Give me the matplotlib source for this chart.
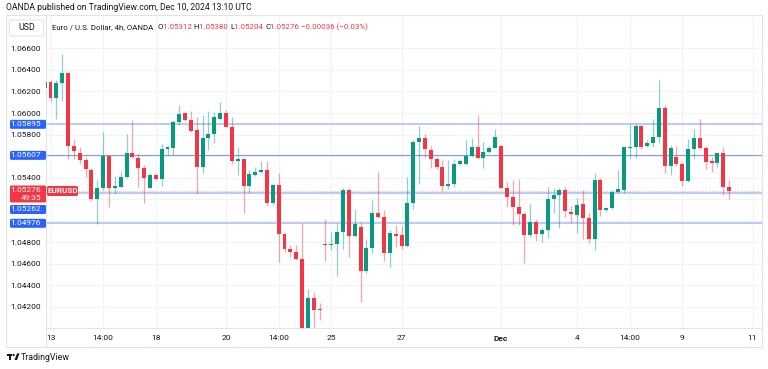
"""
EUR/USD 4h candles, OANDA snapshot style (TradingView look)
"""

import matplotlib.pyplot as plt
from matplotlib.patches import FancyBboxPatch, Rectangle, Polygon, Circle

plt.rcParams["font.family"] = ["Roboto", "DejaVu Sans"]

# candle data (index -1 = last candle before Nov 13 02:00)
first_index = -1
opens = [
    1.06229, 1.06285, 1.06136, 1.06276, 1.06368, 1.05694, 1.05631, 1.05564, 1.05471, 1.05199,
    1.05301, 1.05601, 1.05301, 1.05316, 1.05403, 1.05626, 1.05580, 1.05487, 1.05306, 1.05424,
    1.05384, 1.05666, 1.05678, 1.05919, 1.06003, 1.05935, 1.05842, 1.05496, 1.05771, 1.05805,
    1.05944, 1.06003, 1.05873, 1.05554, 1.05570, 1.05322, 1.05424, 1.05455, 1.05471, 1.05167,
    1.05332, 1.04874, 1.04737, 1.04707, 1.04642, 1.03750, 1.04285, 1.04180, 1.04784, 1.04772,
    1.04784, 1.04892, 1.05285, 1.04858, 1.04944, 1.04533, 1.04749, 1.05069, 1.05037, 1.04698,
    1.04877, 1.04867, 1.04765, 1.05162, 1.05728, 1.05768, 1.05654, 1.05576, 1.05501, 1.05322,
    1.05341, 1.05529, 1.05529, 1.05601, 1.05681, 1.05580, 1.05635, 1.05678, 1.05694, 1.05306,
    1.05217, 1.05130, 1.05060, 1.04867, 1.04985, 1.04874, 1.04914, 1.05202, 1.05239, 1.05285,
    1.05078, 1.05053, 1.05152, 1.05028, 1.04830, 1.05378, 1.05100, 1.05122, 1.05266, 1.05285,
    1.05678, 1.05681, 1.05882, 1.05694, 1.05724, 1.05774, 1.06044, 1.05511, 1.05594, 1.05524,
    1.05372, 1.05663, 1.05765, 1.05672, 1.05554, 1.05533, 1.05626, 1.05312,
]
highs = [
    1.06316, 1.06306, 1.06306, 1.06548, 1.06383, 1.05759, 1.05687, 1.05594, 1.05487, 1.05378,
    1.05826, 1.05610, 1.05415, 1.05462, 1.05802, 1.05935, 1.05631, 1.05517, 1.05440, 1.05440,
    1.05712, 1.05694, 1.05935, 1.06074, 1.06012, 1.06019, 1.05966, 1.05981, 1.06019, 1.06012,
    1.06102, 1.06028, 1.05960, 1.05681, 1.05580, 1.05471, 1.05501, 1.05554, 1.05554, 1.05347,
    1.05446, 1.04889, 1.04775, 1.04775, 1.04982, 1.04366, 1.04341, 1.04233, 1.05013, 1.04898,
    1.04970, 1.05301, 1.05301, 1.05109, 1.04991, 1.04827, 1.05192, 1.05449, 1.05100, 1.04914,
    1.04962, 1.04954, 1.05409, 1.05749, 1.05882, 1.05802, 1.05696, 1.05589, 1.05564, 1.05564,
    1.05570, 1.05570, 1.05749, 1.05771, 1.05981, 1.05733, 1.05694, 1.05851, 1.05703, 1.05362,
    1.05378, 1.05384, 1.05084, 1.05155, 1.05013, 1.04930, 1.05310, 1.05301, 1.05301, 1.05310,
    1.05137, 1.05211, 1.05285, 1.05069, 1.05440, 1.05394, 1.05130, 1.05285, 1.05471, 1.05681,
    1.05898, 1.05895, 1.05889, 1.05749, 1.05942, 1.06306, 1.06074, 1.05703, 1.05694, 1.05548,
    1.05759, 1.05851, 1.05944, 1.05694, 1.05594, 1.05631, 1.05681, 1.05380,
]
lows = [
    1.06213, 1.06105, 1.05944, 1.06111, 1.05573, 1.05570, 1.05527, 1.05403, 1.05183, 1.04970,
    1.05285, 1.05130, 1.05248, 1.05310, 1.05400, 1.05580, 1.05316, 1.05167, 1.05301, 1.05375,
    1.05322, 1.05610, 1.05610, 1.05889, 1.05926, 1.05826, 1.05245, 1.05446, 1.05656, 1.05719,
    1.05935, 1.05867, 1.05527, 1.05424, 1.05069, 1.05260, 1.05415, 1.05446, 1.05137, 1.05146,
    1.04620, 1.04712, 1.04666, 1.04635, 1.03320, 1.03700, 1.03960, 1.04078, 1.04629, 1.04728,
    1.04487, 1.04735, 1.04666, 1.04852, 1.04243, 1.04512, 1.04698, 1.05022, 1.04629, 1.04573,
    1.04759, 1.04740, 1.04753, 1.05106, 1.05338, 1.05594, 1.05487, 1.05480, 1.05279, 1.05292,
    1.05316, 1.05517, 1.05517, 1.05594, 1.05570, 1.05487, 1.05626, 1.05672, 1.05301, 1.05130,
    1.04962, 1.04962, 1.04605, 1.04846, 1.04812, 1.04805, 1.04842, 1.05069, 1.04930, 1.05037,
    1.04976, 1.04886, 1.04827, 1.04790, 1.04728, 1.05044, 1.05084, 1.05106, 1.05254, 1.05254,
    1.05580, 1.05580, 1.05663, 1.05681, 1.05681, 1.05724, 1.05446, 1.05424, 1.05508, 1.05322,
    1.05359, 1.05585, 1.05663, 1.05480, 1.05455, 1.05501, 1.05238, 1.05204,
]
closes = [
    1.06290, 1.06136, 1.06276, 1.06368, 1.05694, 1.05647, 1.05564, 1.05477, 1.05199, 1.05301,
    1.05601, 1.05301, 1.05325, 1.05403, 1.05626, 1.05589, 1.05487, 1.05399, 1.05424, 1.05384,
    1.05666, 1.05681, 1.05919, 1.05991, 1.05935, 1.05836, 1.05496, 1.05771, 1.05805, 1.05966,
    1.06003, 1.05873, 1.05557, 1.05570, 1.05322, 1.05434, 1.05455, 1.05471, 1.05167, 1.05332,
    1.04874, 1.04737, 1.04707, 1.04642, 1.03750, 1.04285, 1.04171, 1.04168, 1.04775, 1.04787,
    1.04892, 1.05285, 1.04858, 1.04967, 1.04533, 1.04749, 1.05069, 1.05037, 1.04698, 1.04889,
    1.04861, 1.04765, 1.05162, 1.05733, 1.05768, 1.05666, 1.05576, 1.05501, 1.05322, 1.05341,
    1.05529, 1.05554, 1.05601, 1.05687, 1.05580, 1.05635, 1.05678, 1.05780, 1.05306, 1.05217,
    1.05130, 1.05060, 1.04867, 1.04985, 1.04874, 1.04914, 1.05202, 1.05239, 1.05285, 1.05093,
    1.05060, 1.05146, 1.05028, 1.04830, 1.05378, 1.05100, 1.05122, 1.05269, 1.05292, 1.05681,
    1.05687, 1.05882, 1.05687, 1.05724, 1.05774, 1.06044, 1.05511, 1.05678, 1.05524, 1.05372,
    1.05663, 1.05765, 1.05672, 1.05542, 1.05533, 1.05626, 1.05316, 1.05276,
]

# time axis labels (candle index -> label)
tick_index = [0, 9, 18, 30, 39, 48, 60, 77, 90, 99, 108, 120]
tick_labels = ["13", "14:00", "18", "20", "14:00", "25", "27", "Dec", "4", "14:00", "9", "11"]

# price grid
price_levels = [1.042, 1.044, 1.046, 1.048, 1.050, 1.052, 1.054,
                1.056, 1.058, 1.060, 1.062, 1.064, 1.066]
hidden_levels = [1.050, 1.052, 1.056]

# horizontal drawn levels
level_prices = [1.05895, 1.05607, 1.05262, 1.04976]
level_strong = [True, False, True, True]

last_price = 1.05276
countdown = "49:35"

GREEN = "#089981"
RED = "#F23645"
BLUE = "#2962FF"
TEXT = "#131722"
FRAME = "#e0e3eb"

W, H = 768, 369
fig = plt.figure(figsize=(W / 100, H / 100), dpi=100)
fig.patch.set_facecolor("white")

# chart pane (pixel box 46..762 x 15..328)
ax = fig.add_axes([46 / W, 1 - 328 / H, (762 - 46) / W, (328 - 15) / H])
ax.set_xlim(-0.77, 121.62)
ax.set_ylim(1.04004, 1.06910)

# grid
for lv in price_levels:
    ax.axhline(lv, color="#f2f3f6", lw=0.8, zorder=0)
for t in tick_index:
    ax.axvline(t, color="#f2f3f6", lw=0.8, zorder=0)

# candles
for k in range(len(opens)):
    x = first_index + k
    o, h, l, c = opens[k], highs[k], lows[k], closes[k]
    col = GREEN if c >= o else RED
    ax.vlines(x, l, h, color=col, lw=0.9, alpha=0.45, zorder=2)
    body = max(abs(c - o), 0.00008)
    ax.bar(x, body, bottom=min(o, c), width=0.68, color=col, lw=0, zorder=3)

# drawn levels
for p, strong in zip(level_prices, level_strong):
    if strong:
        ax.axhline(p, color="#b4c4fb", lw=1.3, zorder=1)
    else:
        ax.axhline(p, color="#7f9af7", lw=0.8, zorder=1)

# last price dotted line
ax.axhline(last_price, color=RED, lw=0.7, ls=(0, (1.5, 1.5)), alpha=0.3, zorder=1)

# ticks
ax.set_yticks(price_levels)
ax.set_yticklabels(["" if lv in hidden_levels else f"{lv:.5f}" for lv in price_levels])
ax.set_xticks(tick_index)
ax.set_xticklabels(tick_labels)
ax.tick_params(axis="both", length=0, labelsize=6, colors=TEXT)
ax.tick_params(axis="y", pad=3.5)
ax.tick_params(axis="x", pad=5)
for lab in ax.get_xticklabels():
    if lab.get_text() == "Dec":
        lab.set_fontweight("bold")

for side in ["top", "right"]:
    ax.spines[side].set_visible(False)
ax.spines["left"].set_color(FRAME)
ax.spines["bottom"].set_color(FRAME)
ax.spines["left"].set_linewidth(0.8)
ax.spines["bottom"].set_linewidth(0.8)

# overlay in pixel coordinates
ov = fig.add_axes([0, 0, 1, 1], facecolor="none")
ov.set_xlim(0, W)
ov.set_ylim(H, 0)
ov.axis("off")

y0, y1 = ax.get_ylim()


def price_to_px(p):
    return 328 - (p - y0) / (y1 - y0) * (328 - 15)


# frame
ov.add_patch(Rectangle((6, 15), 756, 332, fill=False, ec=FRAME, lw=0.8))
ov.plot([46, 46], [328, 347], color=FRAME, lw=0.8)

# header
ov.text(6, 8, "OANDA published on TradingView.com, Dec 10, 2024 13:10 UTC",
        fontsize=6.2, color=TEXT, va="center", ha="left")

ov.add_patch(FancyBboxPatch((9.5, 20), 34, 16, boxstyle="round,pad=0,rounding_size=2",
                            fc="white", ec=FRAME, lw=0.8))
ov.text(26.5, 28, "USD", fontsize=6.4, color=TEXT, ha="center", va="center")

# legend line with mixed colours
pieces = [
    ("Euro / U.S. Dollar, 4h, OANDA  ", TEXT),
    ("O", TEXT), ("1.05312 ", RED),
    ("H", TEXT), ("1.05380 ", RED),
    ("L", TEXT), ("1.05204 ", RED),
    ("C", TEXT), ("1.05276 ", RED),
    ("\u22120.00036 (\u22120.03%)", RED),
]
renderer = fig.canvas.get_renderer()
xpos = 52
for txt, col in pieces:
    t = ov.text(xpos, 27, txt, fontsize=5.7, color=col, ha="left", va="center")
    bb = t.get_window_extent(renderer=renderer)
    xpos += bb.width


# price boxes on the axis
def axis_box(top, height, color, lines):
    ov.add_patch(FancyBboxPatch((10, top), 36, height,
                                boxstyle="round,pad=0,rounding_size=1.5",
                                fc=color, ec="none", zorder=5))
    step = height / len(lines)
    for n, s in enumerate(lines):
        ov.text(41, top + step * (n + 0.5), s, fontsize=6, color="white",
                ha="right", va="center", zorder=6)


py = price_to_px(level_prices[0])
axis_box(py - 4.5, 9, BLUE, [f"{level_prices[0]:.5f}"])
py = price_to_px(level_prices[1])
axis_box(py - 4.5, 9, BLUE, [f"{level_prices[1]:.5f}"])
py = price_to_px(last_price)
axis_box(py - 5.5, 17, RED, [f"{last_price:.5f}", countdown])
axis_box(py + 14, 9, BLUE, [f"{level_prices[2]:.5f}"])
py = price_to_px(level_prices[3])
axis_box(py - 4.5, 9, BLUE, [f"{level_prices[3]:.5f}"])

# symbol tag
py = price_to_px(last_price)
ov.add_patch(FancyBboxPatch((47, py - 5), 31, 10, boxstyle="round,pad=0,rounding_size=1.5",
                            fc=RED, ec="none", zorder=5))
ov.text(62.5, py, "EURUSD", fontsize=5.8, color="white", ha="center", va="center",
        fontweight="bold", zorder=6)

# TradingView logo
ov.add_patch(Rectangle((7, 353.5), 5, 2, fc=TEXT, ec="none"))
ov.add_patch(Rectangle((9, 353.5), 2, 6.5, fc=TEXT, ec="none"))
ov.add_patch(Circle((13.6, 355), 1.1, fc=TEXT, ec="none"))
ov.add_patch(Polygon([[14.5, 360], [17, 353.5], [19.5, 353.5], [17, 360]], fc=TEXT, ec="none"))
ov.text(21, 357, "TradingView", fontsize=6.4, color=TEXT, ha="left", va="center")

fig.savefig("out.png", dpi=100, facecolor="white")
